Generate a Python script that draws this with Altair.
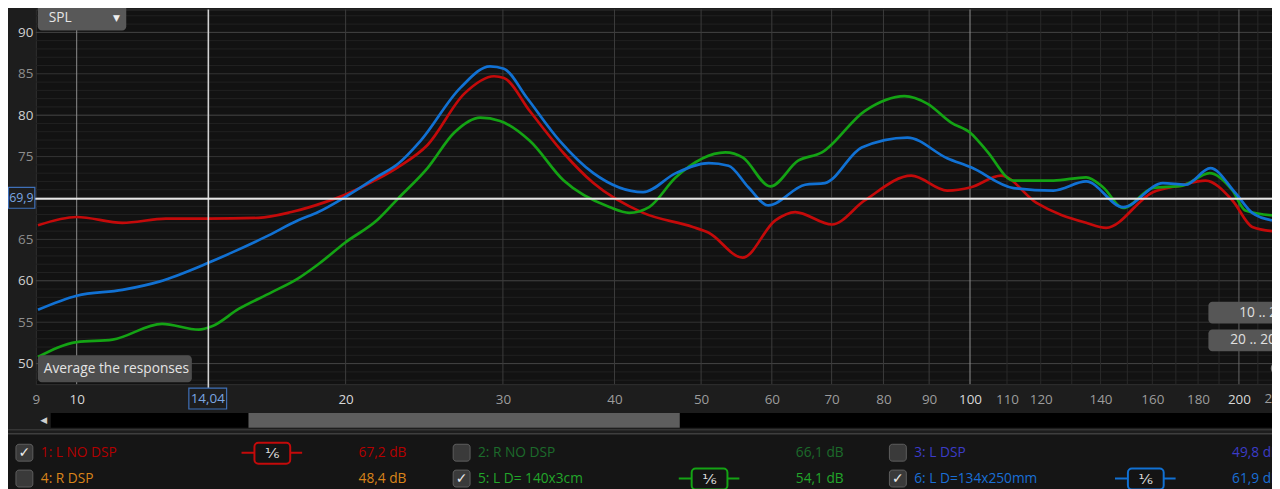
import altair as alt
import pandas as pd

# ---------------- data ----------------
red_freq = [9.05, 10.0, 11.25, 12.59, 14.06, 15.98, 17.39, 18.97, 19.97, 21.73, 22.88, 24.70,
            27.16, 29.32, 30.08, 32.15, 35.09, 37.88, 43.06, 48.94, 50.99, 55.65, 60.54, 63.72,
            70.05, 76.22, 85.97, 94.28, 100.26, 108.3, 118.7, 134.9, 142.0, 160.2, 171.7, 183.5,
            196.7, 207.0, 217.8]
red_spl = [66.7, 67.7, 67.0, 67.5, 67.5, 67.6, 68.3, 69.5, 70.4, 72.3, 73.7, 76.4,
           82.6, 84.7, 84.5, 80.5, 75.4, 71.8, 68.2, 66.5, 65.8, 62.8, 67.3, 68.3,
           66.8, 69.7, 72.7, 70.9, 71.3, 72.7, 69.4, 67.0, 66.4, 70.7, 71.5, 72.1,
           69.7, 66.5, 66.0]

green_freq = [9.05, 10.0, 10.97, 12.46, 13.70, 14.17, 15.18, 16.52, 17.70, 18.64, 19.97, 21.73,
              22.88, 24.70, 26.47, 28.29, 29.78, 32.15, 35.09, 39.47, 41.54, 43.73, 46.85, 53.25,
              55.65, 59.77, 64.21, 68.27, 76.22, 84.46, 89.56, 95.25, 100.26, 104.4, 111.9, 124.0,
              134.9, 140.9, 148.4, 160.2, 173.0, 185.4, 196.7, 203.3, 217.8]
green_spl = [50.8, 52.6, 52.9, 54.8, 54.1, 54.5, 56.6, 58.6, 60.3, 62.0, 64.6, 67.4,
             69.9, 73.6, 77.9, 79.7, 79.3, 76.9, 72.1, 68.9, 68.2, 68.9, 72.5, 75.5,
             74.9, 71.4, 74.5, 75.5, 80.5, 82.3, 81.4, 79.1, 77.8, 75.7, 72.1, 72.1,
             72.5, 71.3, 68.8, 71.2, 71.5, 73.0, 70.9, 68.5, 67.9]

blue_freq = [9.05, 10.0, 11.25, 12.37, 14.06, 14.91, 16.27, 17.70, 18.64, 19.97, 21.73, 22.88,
             24.26, 26.88, 29.02, 30.08, 31.91, 34.73, 37.88, 43.06, 46.85, 50.99, 53.66, 56.48,
             59.46, 65.38, 68.80, 75.64, 85.10, 94.28, 100.26, 111.9, 124.0, 134.9, 148.4, 164.4,
             174.3, 185.8, 198.2, 207.0, 217.8]
blue_spl = [56.5, 58.2, 58.9, 59.9, 62.2, 63.4, 65.3, 67.3, 68.3, 70.1, 72.6, 74.1,
            76.9, 83.3, 85.9, 85.6, 82.1, 76.9, 73.0, 70.7, 73.0, 74.2, 73.9, 71.3,
            69.1, 71.6, 71.8, 76.1, 77.3, 74.8, 73.7, 71.2, 70.9, 72.0, 68.9, 71.8,
            71.6, 73.6, 70.6, 68.2, 67.3]

x_label_values = [9, 10, 20, 30, 40, 50, 60, 70, 80, 90, 100, 110, 120, 140, 160, 180, 200]
x_edge_label = [220]
x_grid_values = [10, 20, 30, 40, 50, 60, 70, 80, 90, 100, 110, 120, 130, 140, 150, 160, 170,
                 180, 190, 200, 210]
# 70 is hidden behind the cursor value box in the reference
y_label_values = [50, 55, 60, 65, 75, 80, 85, 90]
y_grid_values = [48, 49, 50, 51, 52, 53, 54, 55, 56, 57, 58, 59, 60, 61, 62, 63, 64, 65, 66, 67,
                 68, 69, 70, 71, 72, 73, 74, 75, 76, 77, 78, 79, 80, 81, 82, 83, 84, 85, 86, 87,
                 88, 89, 90, 91, 92]

cursor_freq = [14.04]
cursor_spl = [69.9]
cursor_freq_text = "14,04"
cursor_spl_text = "69,9"

legend_names = ["1: L NO DSP", "2: R NO DSP", "3: L DSP",
                "4: R DSP", "5: L D= 140x3cm", "6: L D=134x250mm"]
legend_levels = ["67,2 dB", "66,1 dB", "49,8 dB", "48,4 dB", "54,1 dB", "61,9 dB"]
legend_checked = [True, False, False, False, True, True]
smoothing_text = "\u2159"

# ---------------- styling ----------------
FONT = "Open Sans"
UI_SIZE = 13.8
RED, GREEN, BLUE = "#c40a0a", "#14a314", "#1171d3"
legend_text_colors = ["#b30000", "#1c6b2b", "#3c3cc8", "#d9841a", "#22a62a", "#1a6fd6"]
legend_line_colors = [RED, "#1c6b2b", "#3c3cc8", "#d9841a", GREEN, BLUE]

OX, OY = 36, 8  # page position of the plot's top-left corner
W, H = 1244, 377

xs = alt.Scale(type="log", domain=[9, 217.8], nice=False)
ys = alt.Scale(domain=[47.52, 92.76], nice=False, zero=False)

BRIGHT_X = "indexof([10, 20, 100, 200, 220], datum.value) >= 0"
x_axis = alt.Axis(values=x_label_values, format="d", grid=False, ticks=False, domain=False,
                  labelFlush=False, labelOverlap=False, labelPadding=8, labelFontSize=13.5,
                  labelFont=FONT, title=None,
                  labelColor={"condition": {"test": BRIGHT_X, "value": "#d8d8d8"},
                              "value": "#9c9c9c"})
y_axis = alt.Axis(values=y_label_values, format="d", grid=False, ticks=False, domain=False,
                  labelPadding=3, labelFontSize=13.5, labelFont=FONT, title=None,
                  labelColor={"condition": {"test": "datum.value % 10 == 0", "value": "#d0d0d0"},
                              "value": "#8e8e8e"})


def X():
    return alt.X("f:Q", scale=xs, axis=x_axis)


def Y():
    return alt.Y("db:Q", scale=ys, axis=y_axis)


def xgrid_color(v):
    if v in (10, 100):
        return "#8e8e8e"
    if v == 200:
        return "#666666"
    if v < 100:
        return "#3c3c3c"
    return "#292929"


def ygrid_color(v):
    if v % 10 == 0:
        return "#464646"
    if v % 5 == 0:
        return "#333333"
    return "#212121"


layers = []

# grid
xg = pd.DataFrame({"f": x_grid_values})
xg["c"] = [xgrid_color(v) for v in x_grid_values]
yg = pd.DataFrame({"db": y_grid_values})
yg["c"] = [ygrid_color(v) for v in y_grid_values]
layers.append(alt.Chart(yg).mark_rule(strokeWidth=1).encode(
    y=Y(), color=alt.Color("c:N", scale=None)))
layers.append(alt.Chart(xg).mark_rule(strokeWidth=1).encode(
    x=X(), color=alt.Color("c:N", scale=None)))


def curve(freqs, spls, color):
    df = pd.DataFrame({"f": freqs, "db": spls})
    return alt.Chart(df).mark_line(interpolate="monotone", strokeWidth=2.7, color=color,
                                   clip=True).encode(x=X(), y=Y())


layers.append(curve(red_freq, red_spl, RED))
layers.append(curve(green_freq, green_spl, GREEN))
layers.append(curve(blue_freq, blue_spl, BLUE))

# cursors
layers.append(alt.Chart(pd.DataFrame({"f": cursor_freq})).mark_rule(
    color="#d2d2d2", strokeWidth=1.6).encode(x=X(), y=alt.value(0), y2=alt.value(381)))
layers.append(alt.Chart(pd.DataFrame({"db": cursor_spl})).mark_rule(
    color="#e6e6e6", strokeWidth=2).encode(y=Y(), x=alt.value(-2), x2=alt.value(W)))

# last x label, partly outside the window
layers.append(alt.Chart(pd.DataFrame({"f": x_edge_label, "t": ["220"]})).mark_text(
    align="center", baseline="top", fontSize=13.5, font=FONT, color="#9c9c9c").encode(
    x=X(), y=alt.value(H + 8), text="t:N"))


# ---------------- helpers for the surrounding UI ----------------
ONE = pd.DataFrame({"t": [""]})


def rect(x1, x2, y1, y2, fill, stroke=None, sw=1.0, r=0):
    kw = dict(fill=fill, cornerRadius=r)
    if stroke:
        kw.update(stroke=stroke, strokeWidth=sw)
    else:
        kw.update(strokeWidth=0)
    return alt.Chart(ONE).mark_rect(**kw).encode(
        x=alt.value(x1 - OX), x2=alt.value(x2 - OX), y=alt.value(y1 - OY), y2=alt.value(y2 - OY))


def hline(x1, x2, y, color, sw=2):
    return alt.Chart(ONE).mark_rule(color=color, strokeWidth=sw).encode(
        x=alt.value(x1 - OX), x2=alt.value(x2 - OX), y=alt.value(y - OY))


def text(t, x, y, color, size=UI_SIZE, align="left", font=FONT, weight="normal"):
    return alt.Chart(pd.DataFrame({"t": [t]})).mark_text(
        align=align, baseline="middle", fontSize=size, font=font, color=color,
        fontWeight=weight).encode(x=alt.value(x - OX), y=alt.value(y - OY), text="t:N")


# cursor value boxes
layers.append(rect(8.5, 35, 187, 208, "#1d1d1d", "#3f70b8", 1.2))
layers.append(text(cursor_spl_text, 21.5, 198, "#7aa6e2", 12.5, "center"))
layers.append(rect(190, 228, 389, 410, "#1d1d1d", "#3f70b8", 1.2))
layers.append(text(cursor_freq_text, 209, 400, "#7aa6e2", 13.5, "center"))

# SPL dropdown
layers.append(rect(38, 127, 3, 29, "#585858", r=4))
layers.append(text("SPL", 49, 17, "#e6e6e6"))
layers.append(text("\u25BC", 117, 17, "#eeeeee", 9, "center", "DejaVu Sans"))

# tooltip
layers.append(rect(38, 193, 356, 383, "#4e4e4e", r=4))
layers.append(text("Average the responses", 44, 370, "#e4e4e4"))

# range buttons on the right
layers.append(rect(1216, 1292, 302, 324, "#565656", r=4))
layers.append(text("10 .. 200", 1247, 313, "#e0e0e0"))
layers.append(rect(1216, 1292, 330, 352, "#565656", r=4))
layers.append(text("20 .. 2000", 1238, 341, "#e0e0e0"))
layers.append(alt.Chart(ONE).mark_point(shape="circle", size=170, stroke="#a8a8a8",
                                        strokeWidth=1.5, filled=False).encode(
    x=alt.value(1286 - OX), y=alt.value(369 - OY)))

# scrollbar
layers.append(rect(51, 1292, 414, 429, "#000000"))
layers.append(rect(250, 684, 414, 429, "#5e5e5e"))
layers.append(text("\u25C0", 44, 421, "#cfcfcf", 9, "center", "DejaVu Sans"))

# legend panel
layers.append(hline(0, 1292, 431, "#353535", 1.5))
layers.append(rect(6, 1296, 435, 500, "#151515", "#3e3e3e", 1.5))

col_name_x = [41, 481, 920]
row_y = [454, 480]
for i, name in enumerate(legend_names):
    nx = col_name_x[i % 3]
    ry = row_y[i // 3]
    layers.append(rect(nx - 25, nx - 8, ry - 8.5, ry + 8.5, "#3a3a3a", "#5e5e5e", 1, r=3))
    if legend_checked[i]:
        layers.append(text("\u2713", nx - 16.5, ry, "#ececec", 14, "center", "DejaVu Sans", "bold"))
        layers.append(hline(nx + 202, nx + 263, ry, legend_line_colors[i], 2))
        layers.append(rect(nx + 215, nx + 251, ry - 10, ry + 11, "#141414",
                           legend_line_colors[i], 2, r=4))
        layers.append(text(smoothing_text, nx + 233, ry, "#dcdcdc", 15, "center", "DejaVu Sans"))
    layers.append(text(name, nx, ry, legend_text_colors[i]))
    layers.append(text(legend_levels[i], nx + 368, ry, legend_text_colors[i], UI_SIZE, "right"))

chart = alt.layer(*layers).properties(
    width=W, height=H, background="#1d1d1d",
    padding={"left": 28, "top": 0, "right": 0, "bottom": 104},
    autosize=alt.AutoSizeParams(type="none"),
).configure_view(fill="#121212", stroke="#2f2f2f", strokeWidth=1)

chart.save("out.html", embed_options={"renderer": "svg", "actions": False})
